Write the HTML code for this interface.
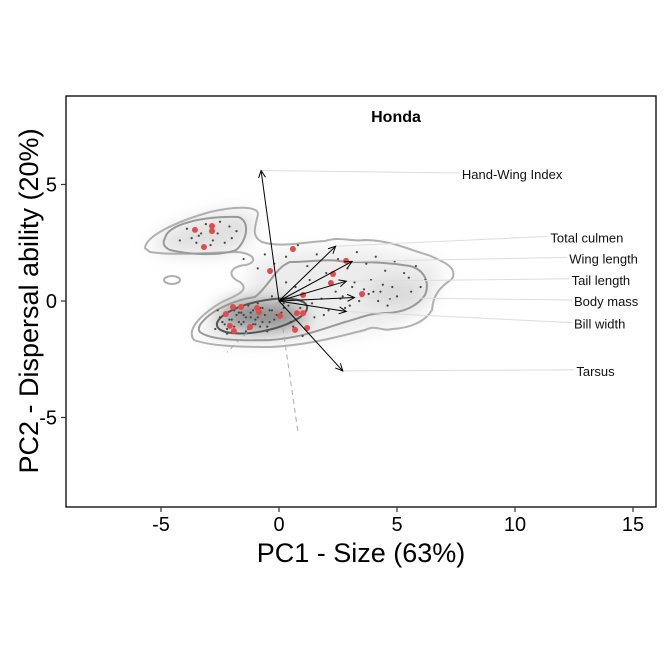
<!DOCTYPE html>
<html><head><meta charset="utf-8"><style>
html,body{margin:0;padding:0;background:#fff;}
svg{display:block;font-family:"Liberation Sans",Arial,sans-serif;}
</style></head><body>
<svg id="chart" width="664" height="664" viewBox="0 0 664 664">
<defs>
<filter id="blur" x="-50%" y="-50%" width="200%" height="200%"><feGaussianBlur stdDeviation="9"/></filter>
<clipPath id="clip"><rect x="66" y="96" width="590" height="411"/></clipPath>
</defs>
<g id="plot" clip-path="url(#clip)">
  <g filter="url(#blur)">
    <path d="M150,246 C170,220 240,205 255,215 C255,235 250,250 215,254 C180,255 160,252 150,246Z" fill="#e0e0e0"/>
    <path d="M250,262 C300,240 380,245 440,262 C450,285 430,320 380,328 C330,340 260,345 210,342 C190,332 205,310 250,290Z" fill="#ececec"/>
    <ellipse cx="262" cy="316" rx="45" ry="16" fill="#8a8a8a"/>
    <ellipse cx="395" cy="293" rx="30" ry="14" fill="#d8d8d8"/>
  </g>
  <g fill="none">
    <path stroke="#b0b0b0" stroke-width="2" d="M145,248 C146,236 175,222 210,212 C235,206 258,206 258,214 C256,225 250,236 262,242 C280,248 305,242 325,241 C340,236 352,242 365,240 C390,240 410,250 428,255 C445,262 458,268 452,279 C440,287 433,295 432,310 C425,322 410,328 392,329 C382,332 376,324 365,330 C340,336 310,345 270,347 C240,347 210,346 194,340 C186,330 200,315 222,302 C238,295 250,290 240,282 C226,276 230,266 246,265 C258,262 255,254 238,252 C212,252 175,256 150,252Z"/>
    <ellipse cx="172" cy="280" rx="8" ry="4" stroke="#b0b0b0" stroke-width="2"/>
    <path stroke="#999" stroke-width="2" d="M165,238 C168,225 200,216 238,217 C250,220 248,240 236,250 C220,256 190,255 170,250 C162,246 163,242 165,238Z"/>
    <path stroke="#999" stroke-width="2" d="M200,325 C210,310 235,300 255,297 C270,285 275,268 290,262 C310,262 330,258 345,262 C365,262 385,262 410,266 C425,270 430,283 425,295 C418,305 405,313 385,313 C370,313 360,318 345,322 C320,330 300,338 270,340 C240,341 210,340 200,332 C198,330 199,327 200,325Z"/>
    <ellipse cx="262" cy="316" rx="46" ry="15" transform="rotate(-12 262 316)" stroke="#555" stroke-width="2"/>
  </g>
  <g id="dashes" stroke="#aaa" stroke-width="1" stroke-dasharray="5,4" fill="none"></g>
  <g id="gray-points"></g>
  <g id="red-points"></g>
  <g id="leaders"></g>
  <g id="arrows"></g>
  <g id="labels"></g>
</g>
<rect x="66" y="96" width="590" height="411" fill="none" stroke="#000" stroke-width="1.3"/>
<g id="xticks"></g>
<g id="yticks"></g>
<text x="396" y="122" text-anchor="middle" font-size="16" font-weight="bold">Honda</text>
<text x="361" y="562" text-anchor="middle" font-size="27">PC1 - Size (63%)</text>
<text transform="translate(38,301) rotate(-90)" text-anchor="middle" font-size="27">PC2 - Dispersal ability (20%)</text>
</svg>
<script>
const xTicks=[-5,0,5,10,15];
const yTicks=[-5,0,5];
const redX=[-3.56,-2.84,-2.84,-3.18,0.59,-0.38,2.84,2.29,2.2,3.52,1.02,-1.95,-0.93,-0.85,-1.61,-2.25,0.04,0.76,1.02,-2.08,-1.91,-1.23,0.68,1.19];
const redY=[3.05,3.22,3.0,2.32,2.23,1.29,1.72,1.16,0.77,0.3,0.26,-0.26,-0.3,-0.47,-0.26,-0.56,-0.64,-0.52,-0.52,-1.07,-1.29,-1.12,-1.24,-1.16];
const grayX=[-4.2,-3.9,-3.4,-3.1,-2.6,-2.3,-2.0,-1.8,-2.9,-3.7,-2.5,-1.5,-0.9,-0.6,-0.2,0.3,0.8,1.2,1.6,2.0,2.5,2.9,3.3,3.7,4.1,4.5,4.9,5.3,5.8,6.2,5.6,4.8,4.2,3.6,3.0,2.4,1.8,1.3,0.7,0.2,-0.3,-0.8,-1.3,-1.9,-2.4,-2.7,-2.2,-1.6,-1.0,-0.5,0.5,1.0,1.5,2.1,2.7,3.2,3.8,4.4,5.0,5.5,6.0,0.9,1.9,2.8,3.9,4.7,-0.1,0.6,-1.2,-2.0,-1.4,-0.7,-2.6,-1.7,-0.4,0.2,-1.1,-2.3,-1.5,-0.9,3.4,4.0,4.6,2.2,
 -2.1,-1.8,-1.5,-1.2,-0.9,-0.6,-0.3,-2.4,-1.9,-1.3,-0.7,-0.2,-1.6,-1.0,-2.2,-0.5,0.1,-1.4,-0.8,-1.7,-2.5,-1.1,-0.4,0.4,3.1,3.5,4.3,2.6,1.4,0.3,-3.3,-2.8,-3.5,-2.1];
const grayY=[2.6,3.1,2.8,3.3,2.9,2.5,2.7,3.0,2.4,2.7,3.4,1.8,1.4,2.0,1.6,1.9,2.4,1.5,2.0,1.2,1.8,1.4,2.1,1.6,1.9,1.3,1.7,1.2,1.5,0.9,0.4,0.6,0.0,0.5,-0.2,0.4,0.1,0.9,0.6,-0.1,0.2,-0.3,-0.2,-0.4,-0.9,-1.2,-1.4,-1.0,-0.8,-1.1,-0.9,-1.5,-0.7,-0.4,0.2,0.8,0.3,0.7,0.2,1.0,0.6,-0.3,-0.6,-0.3,0.9,0.1,-0.6,-1.1,-0.7,-0.8,-1.3,-0.9,-0.4,-0.5,-0.4,-0.3,-1.0,-1.0,-0.6,-0.1,0.0,0.4,-0.2,0.7,
 -0.8,-0.6,-0.9,-0.5,-0.7,-0.6,-0.4,-0.9,-1.1,-1.2,-0.3,-0.8,-0.5,-1.0,-1.2,-1.3,-0.5,-0.7,-1.1,-0.9,-0.7,-0.4,-0.9,-0.2,0.6,0.2,0.4,0.1,-0.1,0.8,2.9,2.6,2.5,3.2];
const loadNames=["Hand-Wing Index","Total culmen","Wing length","Tail length","Body mass","Bill width","Tarsus"];
const loadX=[-0.76,2.4,3.1,2.85,3.2,2.85,2.7];
const loadY=[5.6,2.35,1.7,0.85,0.15,-0.45,-3.0];
const labelX=[7.75,11.5,12.3,12.4,12.5,12.5,12.6];
const labelY=[5.45,2.73,1.83,0.91,0.0,-0.97,-3.0];

const sx=v=>279+v*23.6, sy=v=>301-v*23.3;
const NS="http://www.w3.org/2000/svg";
function mk(tag,attrs,parent){const e=document.createElementNS(NS,tag);for(const k in attrs)e.setAttribute(k,attrs[k]);parent.appendChild(e);return e;}

const dg=document.getElementById('dashes');
let d1=mk('line',{x1:sx(0),y1:sy(0),x2:sx(0.8),y2:sy(-5.6)},dg);


let d2=mk('line',{x1:sx(0),y1:sy(0),x2:sx(-2.2),y2:sy(-2.2)},dg);



const gp=document.getElementById('gray-points');
grayX.forEach((x,i)=>{const c=mk('circle',{cx:sx(x),cy:sy(grayY[i]),r:1.1,fill:'#444'},gp);

});
const rp=document.getElementById('red-points');
redX.forEach((x,i)=>{const c=mk('circle',{cx:sx(x),cy:sy(redY[i]),r:3,fill:'#e34a4a'},rp);

});

const lg=document.getElementById('leaders'),ag=document.getElementById('arrows'),tg=document.getElementById('labels');
loadNames.forEach((n,i)=>{
  const tx=sx(loadX[i]),ty=sy(loadY[i]);
  const l=mk('line',{x1:tx,y1:ty,x2:sx(labelX[i])-2,y2:sy(labelY[i])-1,stroke:'#ddd','stroke-width':1},lg);
  
  
  const a=mk('line',{x1:sx(0),y1:sy(0),x2:tx,y2:ty,stroke:'#000','stroke-width':1},ag);
  
  
  const ang=Math.atan2(ty-sy(0),tx-sx(0)),L=8,s=0.45;
  const h=mk('path',{d:`M${tx-L*Math.cos(ang-s)},${ty-L*Math.sin(ang-s)} L${tx},${ty} L${tx-L*Math.cos(ang+s)},${ty-L*Math.sin(ang+s)}`,stroke:'#000',fill:'none','stroke-width':1},ag);
  
  
  const t=mk('text',{x:sx(labelX[i]),y:sy(labelY[i])+5,'font-size':13,fill:'#111'},tg);
  t.textContent=n;
  
  
});

const xt=document.getElementById('xticks');
xTicks.forEach(v=>{const l=mk('line',{x1:sx(v),x2:sx(v),y1:507,y2:512,stroke:'#333','stroke-width':1.2},xt);


const t=mk('text',{x:sx(v),y:531,'text-anchor':'middle','font-size':20,fill:'#000'},xt);t.textContent=v;

});
const yt=document.getElementById('yticks');
yTicks.forEach(v=>{const l=mk('line',{x1:61,x2:66,y1:sy(v),y2:sy(v),stroke:'#333','stroke-width':1.2},yt);


const t=mk('text',{x:57,y:sy(v)+7,'text-anchor':'end','font-size':20,fill:'#000'},yt);t.textContent=v;

});
</script>
</body></html>
